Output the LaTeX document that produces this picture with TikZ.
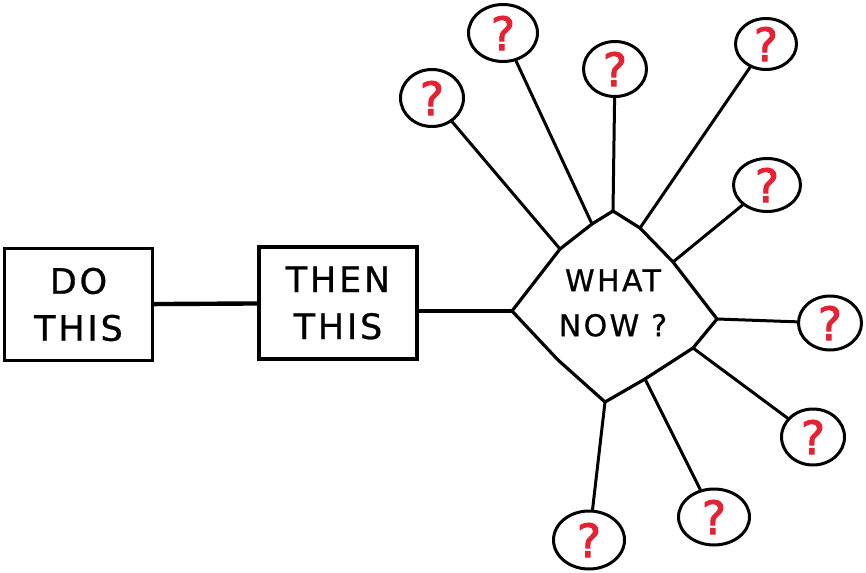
\documentclass[tikz,border=0pt]{standalone}
\usepackage{fontspec}
\usetikzlibrary{shapes.geometric,calc}
\newfontfamily\handfont[LetterSpace=8,FakeBold=0.8]{DejaVu Sans}
\newfontfamily\qfont[FakeBold=2]{DejaVu Sans}
\definecolor{qred}{RGB}{228,34,52}
\begin{document}
\begin{tikzpicture}[x=1pt,y=-1pt,
  box/.style={draw, line width=3.4pt, inner sep=0pt, align=center,
    font=\handfont\fontsize{35}{47}\selectfont},
  dia/.style={draw, line width=3.2pt, line join=round},
  dtext/.style={inner sep=0pt, align=center, font=\handfont\fontsize{30}{45}\selectfont},
  qcirc/.style={draw, ellipse, line width=3pt, inner sep=0pt, text=qred,
    font=\qfont\fontsize{46}{46}\selectfont},
  conn/.style={draw, line width=3pt, line cap=round},
  thick conn/.style={draw, line width=4.4pt}]
\useasboundingbox (0,0) rectangle (866,572);
% boxes
\node[box, minimum width=148pt, minimum height=112pt] (b1) at (78.5,304.5) {DO\\THIS};
\node[box, minimum width=158pt, minimum height=112pt] (b2) at (338,303) {THEN\\THIS};
% diamond corners and attachment points on its edges
\coordinate (dw) at (512,311);
\coordinate (dn) at (613,211);
\coordinate (de) at (717,319);
\coordinate (ds) at (605,402);
\coordinate (e1) at (560,249);
\coordinate (e2) at (592,224);
\coordinate (e4) at (640,228);
\coordinate (e5) at (673,262);
\coordinate (e7) at (693,348);
\coordinate (e8) at (645,379);
\draw[dia] (dw) -- (e1) -- (e2) -- (dn) -- (e4) -- (e5) -- (de) -- (e7) -- (e8) -- (ds) -- (558,360) -- cycle;
\node[dtext] (wn) at (613,303) {WHAT\\NOW ?};
% question circles
\node[qcirc, minimum width=63pt, minimum height=57pt] (c1) at (432,98) {?};
\node[qcirc, minimum width=69pt, minimum height=57pt] (c2) at (503,33) {?};
\node[qcirc, minimum width=63pt, minimum height=55pt] (c3) at (615,69) {?};
\node[qcirc, minimum width=61pt, minimum height=51pt] (c4) at (766,44) {?};
\node[qcirc, minimum width=67pt, minimum height=53pt] (c5) at (767,185) {?};
\node[qcirc, minimum width=63pt, minimum height=54pt] (c6) at (830,323) {?};
\node[qcirc, minimum width=63pt, minimum height=56pt] (c7) at (813,437) {?};
\node[qcirc, minimum width=71pt, minimum height=56pt] (c8) at (714,517) {?};
\node[qcirc, minimum width=71pt, minimum height=58pt] (c9) at (589,540) {?};
% connectors
\draw[thick conn] (b1) -- (b2);
\draw[thick conn] (b2.east |- dw) -- (dw);
\draw[conn] (c1) -- (e1);
\draw[conn] (c2) -- (e2);
\draw[conn] (c3) -- (dn);
\draw[conn] (c4) -- (e4);
\draw[conn] (c5) -- (e5);
\draw[conn] (c6) -- (de);
\draw[conn] (c7) -- (e7);
\draw[conn] (c8) -- (e8);
\draw[conn] (c9) -- (ds);
\end{tikzpicture}
\end{document}
